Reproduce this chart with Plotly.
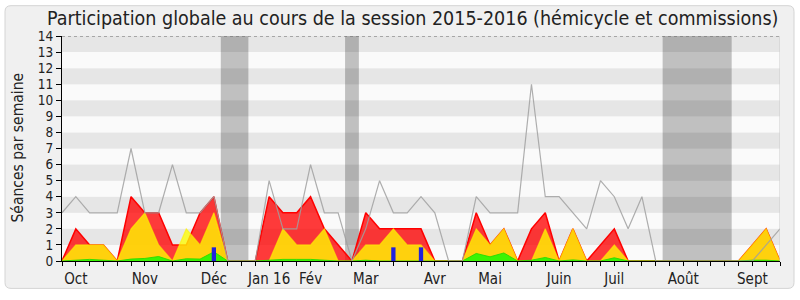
import plotly.graph_objects as go

# ---- data (one value per week of the session) ----
semaines = list(range(53))
seances_max = [3, 4, 3, 3, 3, 7, 3, 3, 6, 3, 3, 4, 0, 0, 0, 5, 2, 2, 6, 3, 3, 0, 2, 5, 3, 3, 4, 3, 0, 0,
               4, 3, 3, 3, 11, 4, 4, 3, 2, 5, 4, 2, 4, 0, 0, 0, 0, 0, 0, 0, 0, 1, 2]
presences = [0, 2, 1, 1, 0, 4, 3, 3, 1, 1, 3, 4, 0, 0, 0, 4, 3, 3, 4, 2, 1, 0, 3, 2, 2, 2, 2, 0, 0, 0,
             3, 1, 2, 0, 2, 3, 0, 2, 0, 1, 2, 0, 0, 0, 0, 0, 0, 0, 0, 0, 1, 2, 0]
participations = [0, 1, 1, 1, 0, 2, 3, 1, 0, 2, 1, 3, 0, 0, 0, 0, 2, 1, 1, 2, 0, 0, 1, 1, 2, 1, 1, 0, 0, 0,
                  2, 1, 2, 0, 0, 2, 0, 2, 0, 0, 1, 0, 0, 0, 0, 0, 0, 0, 0, 0, 1, 2, 0]
interventions = [0, 0.05, 0.1, 0.05, 0, 0.12, 0.16, 0.28, 0, 0.14, 0.12, 0.57, 0, 0, 0, 0.05, 0.1, 0.1, 0.1,
                 0.05, 0, 0, 0.05, 0, 0, 0, 0, 0, 0, 0, 0.47, 0.26, 0.5, 0, 0.05, 0.22, 0, 0.07, 0, 0, 0.2,
                 0, 0, 0, 0, 0, 0, 0, 0, 0, 0.05, 0.05, 0]
questions = [0] * 53
questions[11] = 0.85
questions[24] = 0.85
questions[26] = 0.85

vacances = [(11.5, 13.5), (20.5, 21.5), (43.5, 48.5)]
mois_labels = ["Oct", "Nov", "Déc", "Jan 16", "Fév", "Mar", "Avr", "Mai", "Juin", "Juil", "Août", "Sept"]
mois_semaines = [1, 6, 11, 15, 18, 22, 27, 31, 36, 40, 45, 50]
y_ticks = list(range(15))

FONT = "DejaVu Sans Condensed, Liberation Sans Narrow, DejaVu Sans, sans-serif"

# plot area in pixels
L, R, T, B = 62, 780, 36, 266
W, H = R - L, B - T

def px_x(X):
    return (X - L) / W

def px_y(Y):
    return (B - Y) / H

fig = go.Figure()

fig.add_trace(go.Scatter(x=semaines, y=presences, mode="lines", fill="tozeroy",
                         fillcolor="rgba(255,0,0,0.77)", line=dict(color="#ff0000", width=1.5),
                         hoverinfo="skip"))
fig.add_trace(go.Scatter(x=semaines, y=participations, mode="lines", fill="tozeroy",
                         fillcolor="rgba(255,255,0,0.77)", line=dict(color="rgba(255,240,0,0.6)", width=1.2),
                         hoverinfo="skip"))
fig.add_trace(go.Scatter(x=semaines, y=interventions, mode="lines", fill="tozeroy",
                         fillcolor="rgba(0,255,0,0.77)", line=dict(color="rgba(40,220,0,0.9)", width=1),
                         hoverinfo="skip"))

# questions as thin bars drawn above the areas
qx, qy = [], []
for s, q in zip(semaines, questions):
    if q > 0:
        qx += [s, s, None]
        qy += [0, q, None]
fig.add_trace(go.Scatter(x=qx, y=qy, mode="lines", line=dict(color="#2222dd", width=4.3),
                         hoverinfo="skip"))

fig.add_trace(go.Scatter(x=semaines, y=seances_max, mode="lines",
                         line=dict(color="rgba(160,160,160,0.85)", width=1.2), hoverinfo="skip"))

shapes = []
# outer rounded frame
x0, x1 = px_x(5), px_x(794)
y0, y1 = px_y(294), px_y(5)
rx, ry = 6 / W, 6 / H
path = (f"M {x0+rx},{y0} L {x1-rx},{y0} Q {x1},{y0} {x1},{y0+ry} L {x1},{y1-ry} Q {x1},{y1} {x1-rx},{y1} "
        f"L {x0+rx},{y1} Q {x0},{y1} {x0},{y1-ry} L {x0},{y0+ry} Q {x0},{y0} {x0+rx},{y0} Z")
shapes.append(dict(type="path", path=path, xref="paper", yref="paper", layer="below",
                   fillcolor="#f0f0f0", line=dict(color="#d4d4d4", width=1)))
# stripes
for k in range(14):
    shapes.append(dict(type="rect", xref="x", yref="y", x0=0, x1=52, y0=k, y1=k + 1, layer="below",
                       fillcolor="#e6e6e6" if k % 2 == 1 else "#fafafa", line=dict(width=0)))
# holidays
for a, b in vacances:
    shapes.append(dict(type="rect", xref="x", yref="y", x0=a, x1=b, y0=0, y1=14, layer="below",
                       fillcolor="rgba(0,0,0,0.23)", line=dict(width=0)))
# top dotted line and right border
shapes.append(dict(type="line", xref="x", yref="y", x0=0, x1=52, y0=14, y1=14,
                   line=dict(color="#666666", width=1, dash="dot")))
shapes.append(dict(type="line", xref="x", yref="y", x0=52, x1=52, y0=0, y1=14,
                   line=dict(color="#cccccc", width=1)))

annotations = [
    dict(text="Participation globale au cours de la session 2015-2016 (hémicycle et commissions)",
         xref="paper", yref="paper", x=px_x(412), y=px_y(18), xanchor="center", yanchor="middle",
         showarrow=False, font=dict(family=FONT, size=19.5, color="#222222")),
    dict(text="Séances par semaine", xref="paper", yref="paper", x=px_x(18), y=px_y(150),
         xanchor="center", yanchor="middle", textangle=-90, showarrow=False,
         font=dict(family=FONT, size=15.5, color="#222222")),
]

fig.update_layout(
    width=800, height=300,
    margin=dict(l=L, r=800 - R, t=T, b=300 - B),
    paper_bgcolor="#ffffff", plot_bgcolor="#fafafa",
    showlegend=False, shapes=shapes, annotations=annotations,
    font=dict(family=FONT, size=14, color="#222222"),
)
fig.update_xaxes(range=[0, 52], tickvals=mois_semaines, ticktext=mois_labels, ticks="outside",
                 ticklen=4, tickcolor="black", showgrid=False, zeroline=False, showline=True,
                 linecolor="black", linewidth=1, tickfont=dict(family=FONT, size=15, color="#222222"),
                 minor=dict(tickvals=semaines, ticks="outside", ticklen=4, tickcolor="black", showgrid=False))
fig.update_yaxes(range=[0, 14], tickvals=y_ticks, ticks="outside", ticklen=5, tickcolor="black",
                 showgrid=False, zeroline=False, showline=True, linecolor="black", linewidth=1,
                 tickfont=dict(family=FONT, size=13.5, color="#222222"))

fig.write_html("out.html")
